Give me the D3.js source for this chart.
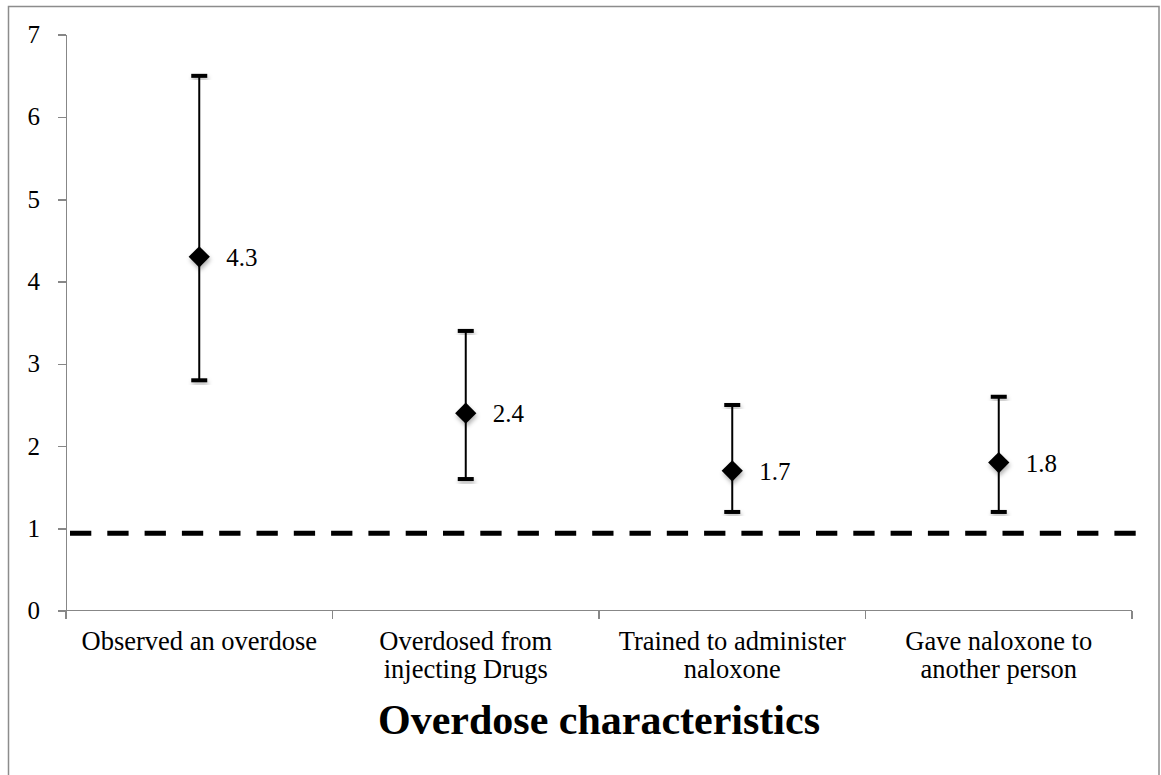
<!DOCTYPE html>
<html>
<head>
<meta charset="utf-8">
<script src="https://cdn.jsdelivr.net/npm/d3@7"></script>
<style>
  body { margin: 0; background: #fff; }
  .axis path, .axis line { stroke: #878787; stroke-width: 1.5; shape-rendering: crispEdges; }
  .axis text { font-family: "Liberation Serif", serif; font-size: 25px; fill: #000; }
</style>
</head>
<body>
<div id="chart"></div>
<script>
// odds ratios with confidence intervals
var categories = ["Observed an overdose", "Overdosed from injecting Drugs", "Trained to administer naloxone", "Gave naloxone to another person"];
var categoryLines = [["Observed an overdose"], ["Overdosed from", "injecting Drugs"], ["Trained to administer", "naloxone"], ["Gave naloxone to", "another person"]];
var estimates = [4.3, 2.4, 1.7, 1.8];
var lowerCI = [2.8, 1.6, 1.2, 1.2];
var upperCI = [6.5, 3.4, 2.5, 2.6];
var yTicks = [0, 1, 2, 3, 4, 5, 6, 7];
var referenceLine = 0.94;
var xTitle = "Overdose characteristics";

var data = categories.map(function(c, i) {
  return {cat: c, est: estimates[i], lo: lowerCI[i], hi: upperCI[i], lines: categoryLines[i]};
});

var svg = d3.select("#chart")
    .append("svg")
    .attr("width", 1161)
    .attr("height", 775);

// drop shadow like the spreadsheet markers
var defs = svg.append("defs");
var f = defs.append("filter").attr("id", "shadow")
    .attr("x", "-50%").attr("y", "-50%").attr("width", "200%").attr("height", "200%");
f.append("feDropShadow")
    .attr("dx", 1).attr("dy", 3)
    .attr("stdDeviation", 2)
    .attr("flood-color", "#000")
    .attr("flood-opacity", 0.3);

// outer frame
svg.append("rect")
    .attr("x", 8.5).attr("y", 6.5)
    .attr("width", 1150.5).attr("height", 800)
    .attr("fill", "none")
    .attr("stroke", "#8c8c8c")
    .attr("stroke-width", 1.5);

var margin = {top: 34.7, left: 66, right: 29, bottom: 164.3},
    width = 1161 - margin.left - margin.right,
    height = 775 - margin.top - margin.bottom,
    g = svg.append("g").attr("transform", "translate(" + margin.left + "," + margin.top + ")");

var x = d3.scaleBand()
    .domain(categories)
    .range([0, width]);

var y = d3.scaleLinear()
    .domain([0, 7])
    .range([height, 0]);

// y axis
var yAxis = d3.axisLeft(y)
    .tickValues(yTicks)
    .tickFormat(d3.format("d"))
    .tickSizeInner(8)
    .tickSizeOuter(0)
    .tickPadding(18);

g.append("g")
    .attr("class", "y axis")
    .call(yAxis);

// x axis, ticks sit on the band edges
var xa = g.append("g")
    .attr("class", "x axis")
    .attr("transform", "translate(0," + height + ")");

xa.append("line")
    .attr("x1", 0).attr("x2", width)
    .attr("y1", 0).attr("y2", 0);

var edges = categories.map(function(c) { return x(c); }).concat([x(categories[categories.length - 1]) + x.bandwidth()]);
xa.selectAll(".tk")
    .data(edges)
    .enter().append("line")
      .attr("class", "tk")
      .attr("x1", function(d) { return d; })
      .attr("x2", function(d) { return d; })
      .attr("y1", 0).attr("y2", 8);

var lbl = xa.selectAll(".cat")
    .data(data)
    .enter().append("text")
      .attr("class", "cat")
      .attr("text-anchor", "middle")
      .attr("transform", function(d) { return "translate(" + (x(d.cat) + x.bandwidth() / 2) + ",39)"; })
      .style("font-size", "26.5px");

lbl.selectAll("tspan")
    .data(function(d) { return d.lines; })
    .enter().append("tspan")
      .attr("x", 0)
      .attr("dy", function(d, i) { return i == 0 ? 0 : 28; })
      .text(function(d) { return d; });

// axis title
g.append("text")
    .attr("x", width / 2)
    .attr("y", height + 123.5)
    .attr("text-anchor", "middle")
    .style("font-family", "'Liberation Serif', serif")
    .style("font-weight", "bold")
    .style("font-size", "42px")
    .text(xTitle);

// dashed reference line
g.append("line")
    .attr("x1", 4)
    .attr("x2", width + 5)
    .attr("y1", y(referenceLine))
    .attr("y2", y(referenceLine))
    .attr("stroke", "#000")
    .attr("stroke-width", 5)
    .attr("stroke-dasharray", "21.3,16");

// error bars
var pts = g.selectAll(".pt")
    .data(data)
    .enter().append("g")
      .attr("class", "pt")
      .attr("transform", function(d) { return "translate(" + (x(d.cat) + x.bandwidth() / 2) + ",0)"; });

pts.append("line")
    .attr("x1", 0).attr("x2", 0)
    .attr("y1", function(d) { return y(d.hi); })
    .attr("y2", function(d) { return y(d.lo); })
    .attr("stroke", "#000")
    .attr("stroke-width", 2);

pts.selectAll(".cap")
    .data(function(d) { return [d.hi, d.lo]; })
    .enter().append("rect")
      .attr("class", "cap")
      .attr("x", -8)
      .attr("y", function(d) { return y(d) - 2; })
      .attr("width", 16)
      .attr("height", 4)
      .attr("fill", "#000")
      .attr("filter", "url(#shadow)");

pts.append("path")
    .attr("d", d3.symbol().type(d3.symbolDiamond2).size(288))
    .attr("transform", function(d) { return "translate(0," + y(d.est) + ")"; })
    .attr("fill", "#000")
    .attr("filter", "url(#shadow)");

pts.append("text")
    .attr("x", 27)
    .attr("y", function(d) { return y(d.est) + 9; })
    .style("font-family", "'Liberation Serif', serif")
    .style("font-size", "25px")
    .text(function(d) { return d.est.toFixed(1); });
</script>
</body>
</html>
